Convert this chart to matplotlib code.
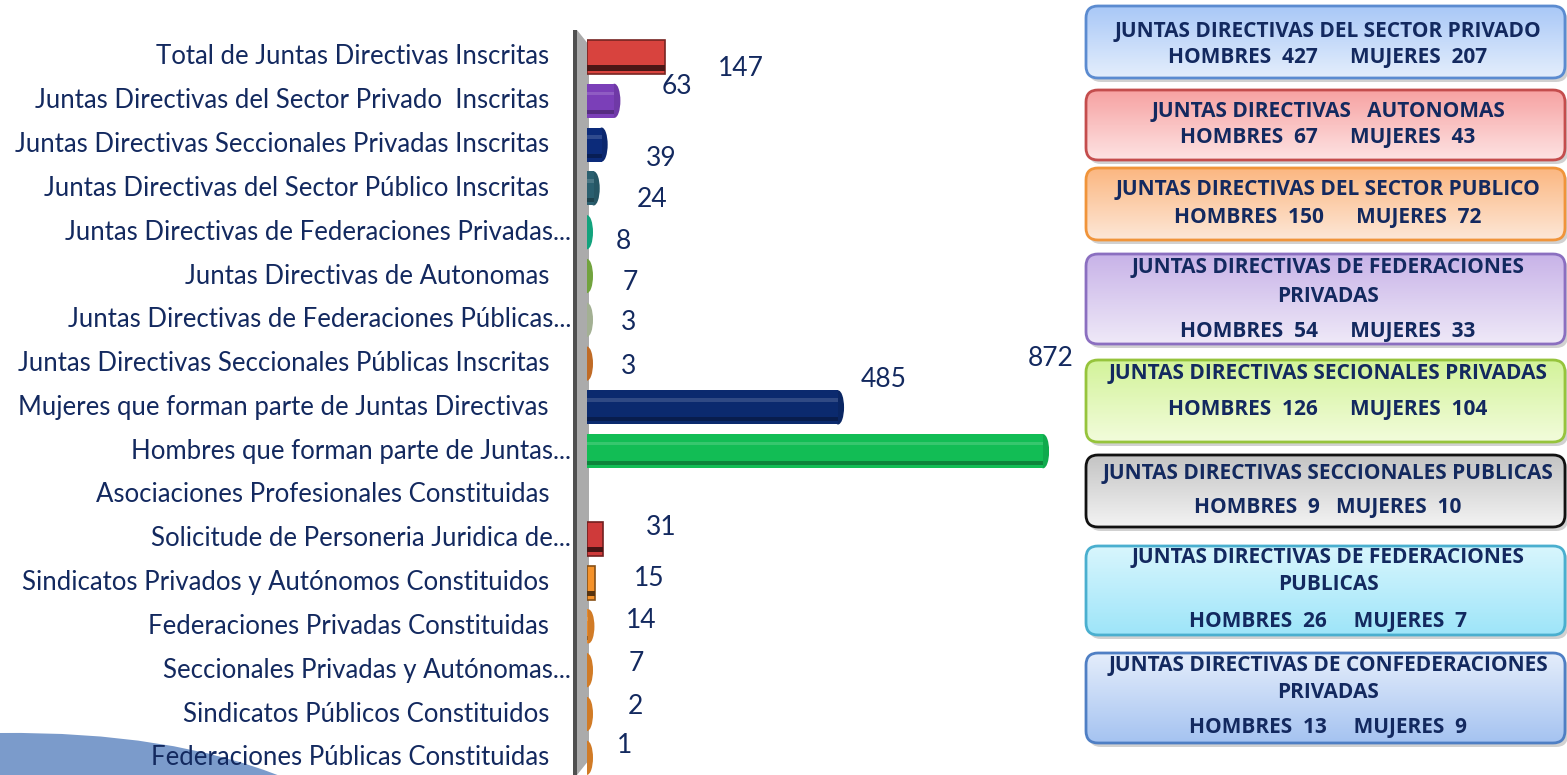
import matplotlib
matplotlib.use("Agg")
import matplotlib.pyplot as plt
import numpy as np
from matplotlib.patches import FancyBboxPatch, Polygon, Ellipse, Rectangle, PathPatch
from matplotlib.path import Path
import matplotlib.colors as mcolors

# ---------------- data ----------------
categories = [
    "Total de Juntas Directivas Inscritas",
    "Juntas Directivas del Sector Privado  Inscritas",
    "Juntas Directivas Seccionales Privadas Inscritas",
    "Juntas Directivas del Sector Público Inscritas",
    "Juntas Directivas de Federaciones Privadas...",
    "Juntas Directivas de Autonomas",
    "Juntas Directivas de Federaciones Públicas...",
    "Juntas Directivas Seccionales Públicas Inscritas",
    "Mujeres que forman parte de Juntas Directivas",
    "Hombres que forman parte de Juntas...",
    "Asociaciones Profesionales Constituidas",
    "Solicitude de Personeria Juridica de...",
    "Sindicatos Privados y Autónomos Constituidos",
    "Federaciones Privadas Constituidas",
    "Seccionales Privadas y Autónomas...",
    "Sindicatos Públicos Constituidos",
    "Federaciones Públicas Constituidas",
]
values = [147, 63, 39, 24, 8, 7, 3, 3, 485, 872, 0, 31, 15, 14, 7, 2, 1]
show_value = [True] * 10 + [False] + [True] * 6

bar_colors = ["#d8433e", "#7b3fb8", "#0c2b7a", "#2a5f6f", "#14b58b", "#7fb545",
              "#b5c3a3", "#d5772a", "#0b2a6e", "#12bd55", "#ffffff", "#cf3a3a",
              "#f5922a", "#e8892a", "#e8892a", "#e8892a", "#e8892a"]
bar_shape = ["box", "cyl", "cyl", "cyl", "cyl", "cyl", "cyl", "cyl", "cyl", "cyl",
             "none", "box", "box", "cyl", "cyl", "cyl", "cyl"]

box_titles = [
    "JUNTAS DIRECTIVAS DEL SECTOR PRIVADO",
    "JUNTAS DIRECTIVAS   AUTONOMAS",
    "JUNTAS DIRECTIVAS DEL SECTOR PUBLICO",
    "JUNTAS DIRECTIVAS DE FEDERACIONES\nPRIVADAS",
    "JUNTAS DIRECTIVAS SECIONALES PRIVADAS",
    "JUNTAS DIRECTIVAS SECCIONALES PUBLICAS",
    "JUNTAS DIRECTIVAS DE FEDERACIONES\nPUBLICAS",
    "JUNTAS DIRECTIVAS DE CONFEDERACIONES\nPRIVADAS",
]
box_hombres = [427, 67, 150, 54, 126, 9, 26, 13]
box_mujeres = [207, 43, 72, 33, 104, 10, 7, 9]

# ---------------- styles / layout ----------------
W, H = 1567, 775
DPI = 100
NAVY = "#13295f"
LABEL_FONT = ["Lato", "DejaVu Sans"]
BOLD_FONT = ["Open Sans", "DejaVu Sans"]

fig = plt.figure(figsize=(W / DPI, H / DPI), dpi=DPI)
fig.patch.set_facecolor("white")

# overlay axes in pixel coordinates
ov = fig.add_axes([0, 0, 1, 1], zorder=1)
ov.set_xlim(0, W)
ov.set_ylim(H, 0)
ov.axis("off")

# blue swoosh bottom-left
verts = [(0, 733), (170, 731), (285, 778), (0, 778), (0, 733)]
codes = [Path.MOVETO, Path.CURVE3, Path.CURVE3, Path.LINETO, Path.CLOSEPOLY]
ov.add_patch(PathPatch(Path(verts, codes), facecolor="#7b9bcb", edgecolor="none"))

# 3D wall
ov.add_patch(Polygon([(577, 30), (589, 45), (589, 760), (577, 775)], closed=True,
                     facecolor="#ababab", edgecolor="none"))
ov.add_patch(Rectangle((573, 30), 4, 745, facecolor="#505050", edgecolor="none"))

# right-hand info boxes
box_tops = [6, 90, 168, 254, 360, 455, 546, 653]
box_bots = [78, 160, 240, 344, 442, 527, 635, 743]
box_top_col = ["#a9c8f7", "#f7a2a2", "#fbb781", "#c8b3e8", "#d3f39a", "#c4c4c4", "#d8f6fd", "#e4edfb"]
box_bot_col = ["#e4eefc", "#fde3e3", "#fde7d7", "#efe9f8", "#f2fcdb", "#f3f3f3", "#9ee5f9", "#a5c3f1"]
box_edge = ["#5b8bd0", "#c44d4d", "#f0943a", "#8b6fc0", "#96c43c", "#111111", "#4aafcf", "#4f7fc4"]
line_y = [[31, 58], [111, 137], [190, 218], [268, 296, 331], [373, 410],
          [473, 508], [558, 585, 622], [665, 692, 728]]
gaps = ["      ", "      ", "      ", "      ", "      ", "   ", "     ", "     "]
BX0, BX1 = 1086, 1565

for i in range(len(box_titles)):
    t, b = box_tops[i], box_bots[i]
    sh = FancyBboxPatch((BX0 + 3, t + 4), BX1 - BX0, b - t,
                        boxstyle="round,pad=0,rounding_size=12",
                        facecolor="#000000", alpha=0.18, edgecolor="none", zorder=1)
    ov.add_patch(sh)
    patch = FancyBboxPatch((BX0, t), BX1 - BX0, b - t,
                           boxstyle="round,pad=0,rounding_size=12",
                           facecolor="none", edgecolor=box_edge[i], linewidth=2, zorder=3)
    ov.add_patch(patch)
    cmap = mcolors.LinearSegmentedColormap.from_list("g", [box_top_col[i], box_bot_col[i]])
    grad = np.linspace(0, 1, 64).reshape(-1, 1)
    im = ov.imshow(grad, cmap=cmap, extent=(BX0, BX1, b, t), aspect="auto", zorder=2,
                   interpolation="bilinear")
    clip = FancyBboxPatch((BX0, t), BX1 - BX0, b - t,
                          boxstyle="round,pad=0,rounding_size=12",
                          facecolor="none", edgecolor="none", transform=ov.transData)
    im.set_clip_path(clip)
    lines = box_titles[i].split("\n") + [f"HOMBRES  {box_hombres[i]}{gaps[i]}MUJERES  {box_mujeres[i]}"]
    for txt, yy in zip(lines, line_y[i]):
        ov.text(1328, yy, txt, ha="center", va="center", fontsize=15,
                fontweight="bold", color=NAVY, family=BOLD_FONT, zorder=4)

ov.set_xlim(0, W)
ov.set_ylim(H, 0)

# ---------------- bar axes ----------------
ROW0, STEP = 57.0, 43.8
X0, XSCALE = 587.0, 0.530       # px of value 0, px per unit
n = len(categories)
top_px = ROW0 - STEP / 2
bot_px = ROW0 + STEP * (n - 1) + STEP / 2
xmax = 872
ax = fig.add_axes([X0 / W, (H - bot_px) / H, xmax * XSCALE / W, (bot_px - top_px) / H], zorder=2)
ax.patch.set_alpha(0)
ax.set_xlim(0, xmax)
ax.set_ylim(n - 0.5, -0.5)
ax.axis("off")

BH = 0.78
cap_w = 12 / XSCALE  # data units for a 12px cap


def shade(c, f):
    r, g, b = mcolors.to_rgb(c)
    if f < 1:
        return (r * f, g * f, b * f)
    return (r + (1 - r) * (f - 1), g + (1 - g) * (f - 1), b + (1 - b) * (f - 1))


for i, (v, c, s) in enumerate(zip(values, bar_colors, bar_shape)):
    if s == "none":
        continue
    if s == "cyl":
        body = max(v - cap_w / 2, 0)
        ax.barh(i, body, height=BH, color=c, edgecolor="none", zorder=3)
        ax.barh(i + BH * 0.34, body, height=BH * 0.12, color=shade(c, 0.7), edgecolor="none", zorder=3)
        ax.barh(i - BH * 0.22, body, height=BH * 0.10, color=shade(c, 1.15), edgecolor="none", zorder=3)
        ax.add_patch(Ellipse((body, i), cap_w, BH, facecolor=shade(c, 0.9), edgecolor="none", zorder=2.9))
    else:
        ax.barh(i, v, height=BH, color=c, edgecolor=shade(c, 0.55), linewidth=1.2, zorder=3)
        ax.barh(i + BH * 0.32, v, height=BH * 0.16, color=shade(c, 0.35), edgecolor="none", zorder=3)

# category labels
label_pad = [-38 if not lab.endswith("...") else -16 for lab in categories]
for i, lab in enumerate(categories):
    ax.annotate(lab, xy=(0, i), xytext=(label_pad[i], 0), textcoords="offset pixels",
                ha="right", va="center", fontsize=18.5, color=NAVY, family=LABEL_FONT,
                annotation_clip=False)

# value labels (pixel offsets from bar end)
val_dx = [76, 57, 54, 52, 32, 40, 40, 40, 40, 2, 0, 58, 54, 47, 46, 47, 37]
val_dy = [-12, 14, -14, -11, -9, -7, -3, -3, 28, 93, 0, 11, 4, 6, 7, 8, 12]
for i, v in enumerate(values):
    if not show_value[i]:
        continue
    ax.annotate(str(v), xy=(v, i), xytext=(val_dx[i], val_dy[i]), textcoords="offset pixels",
                ha="center", va="center", fontsize=19, color=NAVY, family=LABEL_FONT,
                annotation_clip=False)

fig.savefig("out.png", dpi=DPI)
